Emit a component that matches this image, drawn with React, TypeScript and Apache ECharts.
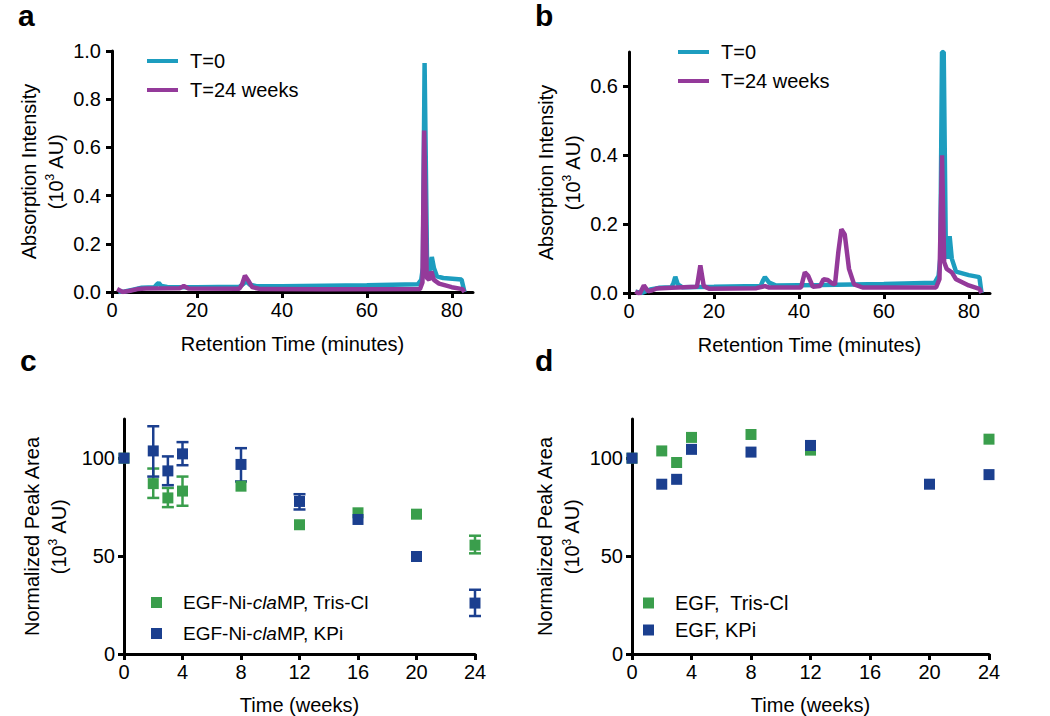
import React, { useEffect, useRef } from "react";
import * as echarts from "echarts";

// ---------- Data ----------
// Panel a: chromatograms [retention time (min), absorption (10^3 AU)]
const chromA_T0: number[][] = [
  [1.5, 0.0], [3, 0.002], [5, 0.01], [7, 0.018], [10, 0.02], [10.5, 0.03], [11, 0.038], [11.6, 0.025],
  [13, 0.021], [20, 0.02], [30, 0.022], [31, 0.035], [31.6, 0.045], [32.5, 0.03], [34, 0.024],
  [40, 0.024], [50, 0.026], [60, 0.028], [72, 0.032], [72.8, 0.05], [73.2, 0.1], [73.6, 0.95],
  [74.2, 0.09], [74.7, 0.08], [75.3, 0.145], [75.8, 0.1], [76.5, 0.065], [78, 0.058], [82.3, 0.052], [83, 0.0],
];
const chromA_T24: number[][] = [
  [1.2, 0.012], [2.5, 0.0], [4, 0.004], [6, 0.012], [8, 0.015], [16, 0.016], [16.9, 0.025], [18, 0.015],
  [30, 0.014], [30.6, 0.03], [31.3, 0.068], [32, 0.05], [33, 0.02], [35, 0.012], [50, 0.011],
  [72.5, 0.012], [73.1, 0.04], [73.5, 0.67], [74.1, 0.06], [74.7, 0.05], [75.2, 0.085], [75.8, 0.05],
  [77, 0.035], [80, 0.02], [82.5, 0.012], [83, 0.0],
];
// Panel b
const chromB_T0: number[][] = [
  [1.5, 0.004], [3, 0.0], [5, 0.01], [7, 0.015], [10, 0.017], [10.5, 0.03], [10.9, 0.047], [11.5, 0.025],
  [12.5, 0.017], [20, 0.018], [31, 0.02], [31.5, 0.035], [32, 0.046], [33, 0.03], [34.5, 0.022],
  [45, 0.023], [60, 0.026], [72, 0.03], [72.9, 0.05], [73.3, 0.1], [73.7, 0.7], [74.1, 0.7],
  [74.6, 0.12], [75.0, 0.1], [75.5, 0.165], [76, 0.1], [77, 0.062], [80, 0.052], [82.5, 0.046], [83, 0.0],
];
const chromB_T24: number[][] = [
  [1.5, 0.005], [2.5, -0.003], [3.5, 0.022], [4.5, 0.005], [5.5, 0.008], [6.5, 0.013], [10, 0.015],
  [16, 0.018], [16.8, 0.08], [17.6, 0.02], [19, 0.012], [30, 0.014], [32, 0.02], [33, 0.016],
  [40.5, 0.016], [41.4, 0.06], [42.2, 0.05], [43.3, 0.018], [45, 0.02], [45.8, 0.04], [46.8, 0.038],
  [47.8, 0.028], [48.5, 0.025], [49.3, 0.12], [50, 0.185], [50.8, 0.17], [51.8, 0.07], [53, 0.025],
  [55, 0.016], [72.3, 0.016], [73.1, 0.04], [73.7, 0.4], [74.2, 0.09], [74.8, 0.07], [75.4, 0.065],
  [76, 0.06], [77, 0.04], [80, 0.022], [82.5, 0.012], [83, 0.0],
];

// Panel c: normalized peak area over time
const cWeeks = [0, 2, 3, 4, 8, 12, 16, 20, 24];
const cTrisMean = [100, 87, 79.7, 83.2, 85.7, 66, 72.1, 71.4, 55.6];
const cTrisLow: (number | null)[] = [null, 79.7, 75, 75.7, null, null, null, null, 51.4];
const cTrisHigh: (number | null)[] = [null, 94.7, 84.8, 90.6, null, null, null, null, 60.4];
const cKPiMean = [100, 103.7, 93.5, 102.2, 96.8, 77.9, 68.7, 49.8, 26];
const cKPiLow: (number | null)[] = [null, 90.6, 86.2, 96.4, 88.1, 73.8, null, null, 19.4];
const cKPiHigh: (number | null)[] = [null, 116.3, 100.9, 108.2, 105.1, 81.6, null, null, 32.8];

// Panel d
const dTrisWeeks = [0, 2, 3, 4, 8, 12, 24];
const dTrisMean = [100, 103.7, 97.8, 110.6, 112.1, 104.1, 109.7];
const dKPiWeeks = [0, 2, 3, 4, 8, 12, 20, 24];
const dKPiMean = [100, 86.7, 89.2, 104.5, 103.1, 106.5, 86.7, 91.6];

const chromTicksX = [0, 20, 40, 60, 80];
const areaTicksY = [0, 50, 100];
const absTicksB = [0, 0.2, 0.4, 0.6];

const FONT = "'Liberation Sans', Arial, Helvetica, sans-serif";
const CYAN = "#1d9dbf";
const PURPLE = "#943a9a";
const GREEN = "#3a9e4c";
const BLUE = "#1b3f8f";

const zip = (xs: number[], ys: number[]) => xs.map((x, i) => [x, ys[i]]);
const errData = (xs: number[], lo: (number | null)[], hi: (number | null)[]) =>
  xs.map((x, i) => (lo[i] == null ? null : [x, lo[i], hi[i]])).filter((d) => d != null);

const axisLine = { show: true, onZero: false, lineStyle: { color: "#000", width: 3 } };
const axisTick = { show: true, length: 6, lineStyle: { color: "#000", width: 3 } };
const tickLabel = { color: "#000", fontSize: 20, fontFamily: FONT };

const yName = (l1: string) => `{t|${l1}}\n{t|(10}{s|3}{t| AU)}`;
const yNameStyle = {
  color: "#000",
  fontFamily: FONT,
  fontSize: 20,
  lineHeight: 27,
  rich: {
    t: { fontSize: 20, fontFamily: FONT, color: "#000", lineHeight: 27 },
    s: { fontSize: 12, fontFamily: FONT, color: "#000", verticalAlign: "top", padding: [2, 0, 0, 0] },
  },
};
const xNameStyle = { color: "#000", fontFamily: FONT, fontSize: 20 };

function errorBarRenderer(color: string) {
  return (params: any, api: any) => {
    const x = api.value(0);
    const lo = api.coord([x, api.value(1)]);
    const hi = api.coord([x, api.value(2)]);
    const w = 6;
    const style = { stroke: color, lineWidth: 2.5 };
    return {
      type: "group",
      children: [
        { type: "line", shape: { x1: lo[0], y1: lo[1], x2: hi[0], y2: hi[1] }, style },
        { type: "line", shape: { x1: lo[0] - w, y1: lo[1], x2: lo[0] + w, y2: lo[1] }, style },
        { type: "line", shape: { x1: hi[0] - w, y1: hi[1], x2: hi[0] + w, y2: hi[1] }, style },
      ],
    };
  };
}

export default function App() {
  const ref = useRef<HTMLDivElement>(null);
  useEffect(() => {
    document.body.style.margin = "0";
    if (!ref.current) return;
    const chart = echarts.init(ref.current, null, { renderer: "svg" });

    const panelLetter = (t: string, x: number, y: number) => ({
      type: "text",
      x,
      y,
      style: { text: t, fontSize: 30, fontWeight: "bold", fontFamily: FONT, fill: "#000", verticalAlign: "middle" },
    });

    const lineLegendText = { fontSize: 20, fontFamily: FONT, color: "#000", padding: [0, 0, 0, 7] };

    const option: any = {
      animation: false,
      backgroundColor: "#fff",
      grid: [
        { left: 112, top: 51, width: 361, height: 241 },
        { left: 629, top: 52, width: 361, height: 241 },
        { left: 124, top: 419, width: 351, height: 235 },
        { left: 632, top: 419, width: 357, height: 235 },
      ],
      xAxis: [
        {
          gridIndex: 0, type: "value", min: 0, max: 85, splitLine: { show: false }, axisLine,
          axisTick: { ...axisTick, customValues: chromTicksX },
          axisLabel: { ...tickLabel, margin: 8, customValues: chromTicksX },
          name: "Retention Time (minutes)", nameLocation: "middle", nameGap: 42, nameTextStyle: xNameStyle,
        },
        {
          gridIndex: 1, type: "value", min: 0, max: 85, splitLine: { show: false }, axisLine,
          axisTick: { ...axisTick, customValues: chromTicksX },
          axisLabel: { ...tickLabel, margin: 8, customValues: chromTicksX },
          name: "Retention Time (minutes)", nameLocation: "middle", nameGap: 42, nameTextStyle: xNameStyle,
        },
        {
          gridIndex: 2, type: "value", min: 0, max: 24, interval: 4, splitLine: { show: false }, axisLine,
          axisTick, axisLabel: { ...tickLabel, margin: 8 },
          name: "Time (weeks)", nameLocation: "middle", nameGap: 41, nameTextStyle: xNameStyle,
        },
        {
          gridIndex: 3, type: "value", min: 0, max: 24, interval: 4, splitLine: { show: false }, axisLine,
          axisTick, axisLabel: { ...tickLabel, margin: 8 },
          name: "Time (weeks)", nameLocation: "middle", nameGap: 41, nameTextStyle: xNameStyle,
        },
      ],
      yAxis: [
        {
          gridIndex: 0, type: "value", min: 0, max: 1.0, interval: 0.2, splitLine: { show: false }, axisLine,
          axisTick, axisLabel: { ...tickLabel, margin: 11, formatter: (v: number) => v.toFixed(1) },
          name: yName("Absorption Intensity"), nameLocation: "middle", nameRotate: 90, nameGap: 38,
          nameTextStyle: yNameStyle,
        },
        {
          gridIndex: 1, type: "value", min: 0, max: 0.7, splitLine: { show: false }, axisLine,
          axisTick: { ...axisTick, customValues: absTicksB },
          axisLabel: { ...tickLabel, margin: 11, customValues: absTicksB, formatter: (v: number) => v.toFixed(1) },
          name: yName("Absorption Intensity"), nameLocation: "middle", nameRotate: 90, nameGap: 42,
          nameTextStyle: yNameStyle,
        },
        {
          gridIndex: 2, type: "value", min: 0, max: 120, splitLine: { show: false }, axisLine,
          axisTick: { ...axisTick, customValues: areaTicksY },
          axisLabel: { ...tickLabel, margin: 9, customValues: areaTicksY },
          name: yName("Normalized Peak Area"), nameLocation: "middle", nameRotate: 90, nameGap: 52,
          nameTextStyle: yNameStyle,
        },
        {
          gridIndex: 3, type: "value", min: 0, max: 120, splitLine: { show: false }, axisLine,
          axisTick: { ...axisTick, customValues: areaTicksY },
          axisLabel: { ...tickLabel, margin: 9, customValues: areaTicksY },
          name: yName("Normalized Peak Area"), nameLocation: "middle", nameRotate: 90, nameGap: 46,
          nameTextStyle: yNameStyle,
        },
      ],
      legend: [
        {
          left: 147, top: 51, padding: 0, orient: "vertical", itemWidth: 31, itemHeight: 4, itemGap: 9,
          icon: "rect", data: ["T=0", "T=24 weeks"], textStyle: lineLegendText,
        },
        {
          left: 678, top: 42, padding: 0, orient: "vertical", itemWidth: 31, itemHeight: 4, itemGap: 9,
          icon: "rect", data: ["T=0", "T=24 weeks"], textStyle: lineLegendText,
        },
        {
          left: 151, top: 593, padding: 0, orient: "vertical", itemWidth: 11, itemHeight: 11, itemGap: 12, icon: "rect",
          data: ["EGF-Ni-claMP, Tris-Cl", "EGF-Ni-claMP, KPi"],
          formatter: (n: string) => n.replace("cla", "{i|cla}"),
          textStyle: {
            fontSize: 19, fontFamily: FONT, color: "#000", padding: [0, 0, 0, 16],
            rich: { i: { fontSize: 19, fontFamily: FONT, fontStyle: "italic", color: "#000" } },
          },
        },
        {
          left: 643, top: 593, padding: 0, orient: "vertical", itemWidth: 11, itemHeight: 11, itemGap: 7, icon: "rect",
          data: ["EGF,  Tris-Cl", "EGF, KPi"],
          textStyle: { fontSize: 20, fontFamily: FONT, color: "#000", padding: [0, 0, 0, 16] },
        },
      ],
      graphic: [
        panelLetter("a", 18, 15),
        panelLetter("b", 535, 15),
        panelLetter("c", 20, 360),
        panelLetter("d", 535, 360),
      ],
      series: [
        {
          name: "T=0", type: "line", xAxisIndex: 0, yAxisIndex: 0, data: chromA_T0, symbol: "none",
          lineStyle: { color: CYAN, width: 4.5 }, itemStyle: { color: CYAN },
        },
        {
          name: "T=24 weeks", type: "line", xAxisIndex: 0, yAxisIndex: 0, data: chromA_T24, symbol: "none",
          lineStyle: { color: PURPLE, width: 4.5 }, itemStyle: { color: PURPLE },
        },
        {
          name: "T=0", type: "line", xAxisIndex: 1, yAxisIndex: 1, data: chromB_T0, symbol: "none",
          lineStyle: { color: CYAN, width: 4.5 }, itemStyle: { color: CYAN },
        },
        {
          name: "T=24 weeks", type: "line", xAxisIndex: 1, yAxisIndex: 1, data: chromB_T24, symbol: "none",
          lineStyle: { color: PURPLE, width: 4.5 }, itemStyle: { color: PURPLE },
        },
        {
          name: "EGF-Ni-claMP, Tris-Cl", type: "custom", xAxisIndex: 2, yAxisIndex: 2,
          data: errData(cWeeks, cTrisLow, cTrisHigh), encode: { x: 0, y: [1, 2] },
          renderItem: errorBarRenderer(GREEN), itemStyle: { color: GREEN },
        },
        {
          name: "EGF-Ni-claMP, Tris-Cl", type: "scatter", xAxisIndex: 2, yAxisIndex: 2,
          data: zip(cWeeks, cTrisMean), symbol: "rect", symbolSize: 11, itemStyle: { color: GREEN, opacity: 1 },
        },
        {
          name: "EGF-Ni-claMP, KPi", type: "custom", xAxisIndex: 2, yAxisIndex: 2,
          data: errData(cWeeks, cKPiLow, cKPiHigh), encode: { x: 0, y: [1, 2] },
          renderItem: errorBarRenderer(BLUE), itemStyle: { color: BLUE },
        },
        {
          name: "EGF-Ni-claMP, KPi", type: "scatter", xAxisIndex: 2, yAxisIndex: 2,
          data: zip(cWeeks, cKPiMean), symbol: "rect", symbolSize: 11, itemStyle: { color: BLUE, opacity: 1 },
        },
        {
          name: "EGF,  Tris-Cl", type: "scatter", xAxisIndex: 3, yAxisIndex: 3,
          data: zip(dTrisWeeks, dTrisMean), symbol: "rect", symbolSize: 11, itemStyle: { color: GREEN, opacity: 1 },
        },
        {
          name: "EGF, KPi", type: "scatter", xAxisIndex: 3, yAxisIndex: 3,
          data: zip(dKPiWeeks, dKPiMean), symbol: "rect", symbolSize: 11, itemStyle: { color: BLUE, opacity: 1 },
        },
      ],
    };
    chart.setOption(option);
    return () => chart.dispose();
  }, []);
  return <div ref={ref} style={{ width: 1050, height: 716 }} />;
}
